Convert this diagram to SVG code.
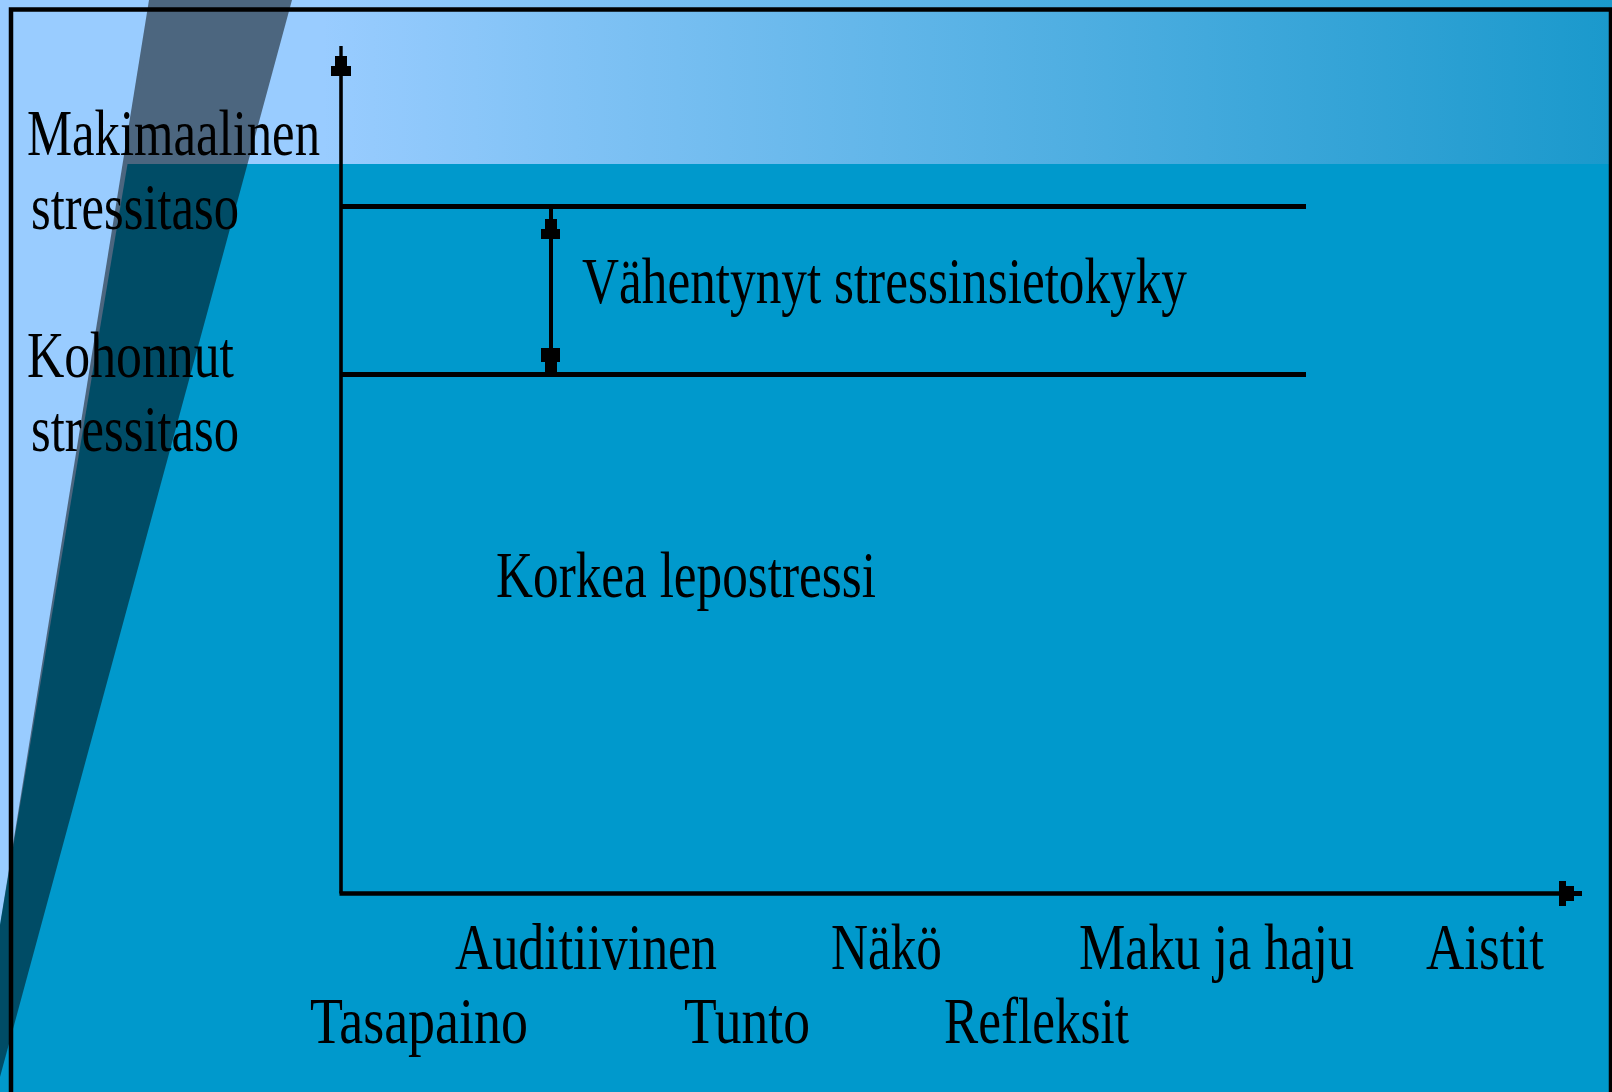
<svg xmlns="http://www.w3.org/2000/svg" width="1612" height="1092" viewBox="0 0 1612 1092">
<style>
.t{font-family:"Liberation Serif","Times New Roman",serif;font-size:66px;fill:#000}
.ln{stroke:#000;fill:none}
</style>
<defs>
<linearGradient id="g" x1="0" y1="0" x2="1612" y2="0" gradientUnits="userSpaceOnUse">
<stop offset="0.2" stop-color="#99ccff"/>
<stop offset="1" stop-color="#1a99cc"/>
</linearGradient>
</defs>
<g id="background">
<rect x="0" y="0" width="1612" height="1092" fill="#0099cc"/>
<rect x="0" y="0" width="1612" height="164" fill="url(#g)"/>
<polygon points="0,0 155,0 0,925" fill="#99ccff"/>
<polygon points="149,0 292,0 0,1077 0,925" fill="#000" fill-opacity="0.5"/>
<rect x="11" y="9.5" width="1600" height="1120" fill="none" stroke="#000" stroke-width="4.5"/>
</g>
<g id="connectors">
<line class="ln" x1="341" y1="56" x2="341" y2="893.5" stroke-width="3.6"/>
<polygon points="339.3,46 342.7,46 342.7,56 347,56 347,66 351,66 351,76 331,76 331,66 335,66 335,56 339.3,56" fill="#000"/>
<line class="ln" x1="339.5" y1="893.5" x2="1566" y2="893.5" stroke-width="4.7"/>
<polygon points="1559,881 1566,881 1566,886 1574,886 1574,891 1582,891 1582,896 1574,896 1574,901 1566,901 1566,906 1559,906" fill="#000"/>
<line class="ln" x1="341" y1="206.5" x2="1306" y2="206.5" stroke-width="5"/>
<line class="ln" x1="341" y1="374.5" x2="1306" y2="374.5" stroke-width="5"/>
<line class="ln" x1="551" y1="206.5" x2="551" y2="372" stroke-width="4"/>
<polygon points="545,219 557,219 557,229 560,229 560,239 541,239 541,229 545,229" fill="#000"/>
<polygon points="541,348 560,348 560,362 557,362 557,372 545,372 545,362 541,362" fill="#000"/>
</g>
<g id="label-max">
<text class="t" x="27" y="155" textLength="293" lengthAdjust="spacingAndGlyphs">Makimaalinen</text>
<text class="t" x="31" y="229" textLength="208" lengthAdjust="spacingAndGlyphs">stressitaso</text>
</g>
<g id="label-kohonnut">
<text class="t" x="27" y="377" textLength="207" lengthAdjust="spacingAndGlyphs">Kohonnut</text>
<text class="t" x="31" y="451" textLength="208" lengthAdjust="spacingAndGlyphs">stressitaso</text>
</g>
<g id="label-vahentynyt">
<text class="t" x="582" y="303" textLength="605" lengthAdjust="spacingAndGlyphs">Vähentynyt stressinsietokyky</text>
</g>
<g id="label-korkea">
<text class="t" x="496" y="597" textLength="380" lengthAdjust="spacingAndGlyphs">Korkea lepostressi</text>
</g>
<g id="senses">
<text class="t" x="455" y="969" textLength="262" lengthAdjust="spacingAndGlyphs">Auditiivinen</text>
<text class="t" x="831" y="969" textLength="111" lengthAdjust="spacingAndGlyphs">Näkö</text>
<text class="t" x="1079" y="969" textLength="275" lengthAdjust="spacingAndGlyphs">Maku ja haju</text>
<text class="t" x="1426" y="969" textLength="118" lengthAdjust="spacingAndGlyphs">Aistit</text>
<text class="t" x="310" y="1043" textLength="218" lengthAdjust="spacingAndGlyphs">Tasapaino</text>
<text class="t" x="684" y="1043" textLength="126" lengthAdjust="spacingAndGlyphs">Tunto</text>
<text class="t" x="944" y="1043" textLength="185" lengthAdjust="spacingAndGlyphs">Refleksit</text>
</g>
</svg>
